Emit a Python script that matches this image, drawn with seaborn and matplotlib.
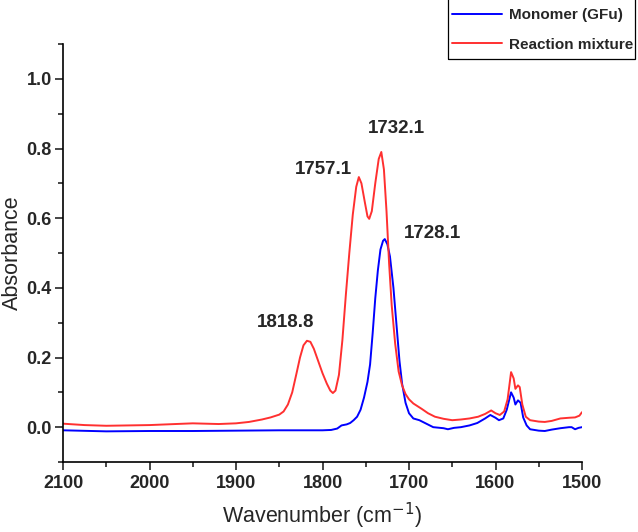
import matplotlib
matplotlib.use("Agg")
import matplotlib.pyplot as plt
import seaborn as sns
import pandas as pd
from matplotlib.ticker import MultipleLocator
from matplotlib.lines import Line2D
from matplotlib.patches import Rectangle

# Data
red_wn = [2100, 2075, 2050, 2000, 1950, 1920, 1900, 1885, 1870, 1860, 1850, 1845, 1840, 1835,
          1830, 1826, 1822, 1818, 1814, 1810, 1805, 1800, 1795, 1791, 1788, 1785, 1781, 1777,
          1773, 1769, 1765, 1761, 1758, 1755, 1751, 1748, 1746, 1743, 1739, 1735, 1732, 1729,
          1726, 1723, 1720, 1716, 1712, 1708, 1704, 1700, 1695, 1690, 1685, 1678, 1670, 1660,
          1650, 1640, 1630, 1620, 1612, 1605, 1600, 1595, 1590, 1586, 1582, 1579, 1577, 1574,
          1572, 1569, 1565, 1560, 1550, 1543, 1535, 1525, 1515, 1508, 1503, 1500]
red_abs = [0.010, 0.006, 0.004, 0.006, 0.011, 0.009, 0.011, 0.015, 0.022, 0.028, 0.036, 0.045,
           0.065, 0.100, 0.155, 0.200, 0.235, 0.248, 0.245, 0.225, 0.190, 0.155, 0.125, 0.105,
           0.098, 0.105, 0.150, 0.250, 0.380, 0.500, 0.610, 0.690, 0.718, 0.700, 0.645, 0.605,
           0.598, 0.620, 0.700, 0.770, 0.790, 0.740, 0.620, 0.470, 0.350, 0.240, 0.160, 0.120,
           0.095, 0.080, 0.068, 0.060, 0.052, 0.040, 0.030, 0.024, 0.020, 0.022, 0.025, 0.030,
           0.038, 0.048, 0.040, 0.035, 0.045, 0.080, 0.158, 0.140, 0.110, 0.120, 0.115, 0.065,
           0.030, 0.020, 0.016, 0.015, 0.018, 0.025, 0.027, 0.028, 0.033, 0.043]

blue_wn = [2100, 2050, 2000, 1950, 1900, 1850, 1800, 1790, 1783, 1778, 1772, 1768, 1764, 1760,
           1756, 1752, 1748, 1745, 1742, 1739, 1736, 1733, 1730, 1728, 1725, 1722, 1718, 1714,
           1711, 1708, 1704, 1700, 1695, 1688, 1680, 1672, 1660, 1655, 1648, 1640, 1630, 1621,
           1612, 1606, 1600, 1596, 1591, 1587, 1582, 1579, 1577, 1574, 1571, 1568, 1564, 1560,
           1550, 1543, 1535, 1525, 1515, 1512, 1508, 1504, 1500]
blue_abs = [-0.009, -0.012, -0.011, -0.011, -0.010, -0.009, -0.009, -0.008, -0.004, 0.005, 0.008,
            0.012, 0.020, 0.030, 0.050, 0.085, 0.130, 0.180, 0.270, 0.370, 0.450, 0.510, 0.535,
            0.540, 0.525, 0.490, 0.400, 0.280, 0.190, 0.125, 0.070, 0.040, 0.025, 0.020, 0.010,
            0.000, -0.003, -0.006, -0.002, 0.000, 0.005, 0.012, 0.025, 0.035, 0.027, 0.020,
            0.025, 0.050, 0.100, 0.085, 0.065, 0.077, 0.070, 0.028, 0.005, -0.006, -0.010,
            -0.011, -0.007, -0.003, 0.000, 0.000, -0.006, -0.002, 0.000]

series_names = ["Monomer (GFu)", "Reaction mixture"]
peak_labels = ["1818.8", "1757.1", "1732.1", "1728.1"]
peak_label_x = [1843, 1799, 1715, 1673]
peak_label_y = [0.30, 0.741, 0.856, 0.557]
x_ticks = [2100, 2000, 1900, 1800, 1700, 1600, 1500]
y_ticks = [0.0, 0.2, 0.4, 0.6, 0.8, 1.0]

df = pd.concat([
    pd.DataFrame({"Wavenumber": blue_wn, "Absorbance": blue_abs, "Sample": series_names[0]}),
    pd.DataFrame({"Wavenumber": red_wn, "Absorbance": red_abs, "Sample": series_names[1]}),
], ignore_index=True)

sns.set_style("ticks")
plt.rcParams["font.family"] = ["Liberation Sans", "DejaVu Sans"]

BLUE = "#0000ff"
RED = "#ff3030"

fig = plt.figure(figsize=(6.38, 5.32), dpi=100)
ax = fig.add_axes([63 / 638, 1 - 462 / 532, 519 / 638, 418 / 532])

sns.lineplot(data=df, x="Wavenumber", y="Absorbance", hue="Sample", sort=False,
             estimator=None, palette={series_names[0]: BLUE, series_names[1]: RED},
             linewidth=1.4, ax=ax, legend=False)

ax.set_xlim(2100, 1500)
ax.set_ylim(-0.1, 1.1)
ax.xaxis.set_minor_locator(MultipleLocator(50))
ax.yaxis.set_minor_locator(MultipleLocator(0.1))
ax.set_yticks(y_ticks)
ax.set_yticklabels([f"{v:.1f}" for v in y_ticks], fontweight="bold", fontsize=13)
ax.set_xticks(x_ticks)
ax.set_xticklabels([str(v) for v in x_ticks], fontweight="bold", fontsize=13)
ax.tick_params(which="major", direction="out", length=6, width=1.2, pad=3)
ax.tick_params(which="minor", direction="out", length=3.5, width=1.2)
ax.tick_params(axis="y", which="major", pad=2)

for s in ["top", "right"]:
    ax.spines[s].set_visible(False)
for s in ["left", "bottom"]:
    ax.spines[s].set_linewidth(1.2)
    ax.spines[s].set_color("black")

ax.set_xlabel("Wavenumber (cm$^{-1}$)", fontsize=15.5, va="center")
ax.set_ylabel("Absorbance", fontsize=15.5, va="center")
ax.xaxis.set_label_coords(0.5, (462 - 516) / 418)
ax.yaxis.set_label_coords((12 - 63) / 519, 0.5)

for t, x, y in zip(peak_labels, peak_label_x, peak_label_y):
    ax.text(x, y, t, fontsize=13.5, fontweight="bold", ha="center", va="center")

# Legend box outside the axes at top right
fig.patches.append(Rectangle((448 / 638, 1 - 59 / 532), (635 - 448) / 638, 59 / 532 + 0.01,
                             transform=fig.transFigure, fill=False, edgecolor="black",
                             linewidth=0.9, clip_on=False))
handles = [Line2D([], [], color=BLUE, lw=1.4), Line2D([], [], color=RED, lw=1.4)]
leg = fig.legend(handles, series_names, loc="center left",
                 bbox_to_anchor=(452 / 638, 1 - 30 / 532),
                 prop={"weight": "bold", "size": 11}, frameon=False, borderpad=0,
                 borderaxespad=0, handlelength=3.3, labelspacing=1.0, handletextpad=0.45)

fig.savefig("out.png", dpi=100)
